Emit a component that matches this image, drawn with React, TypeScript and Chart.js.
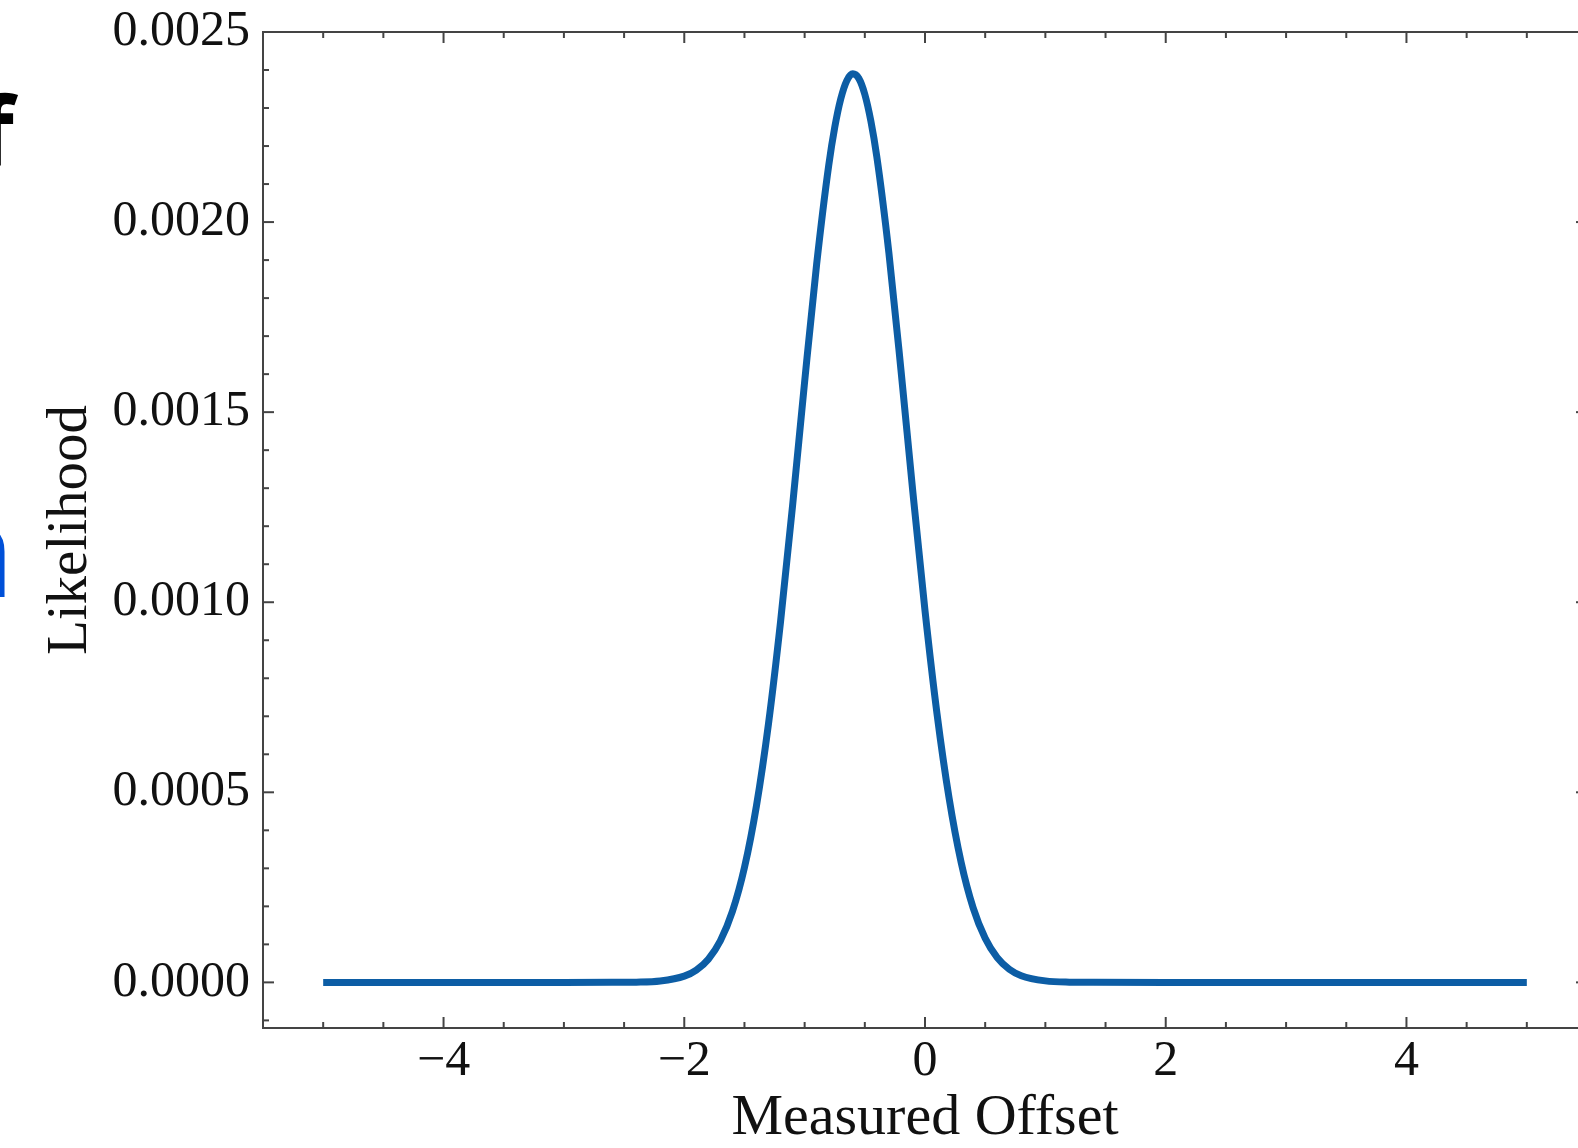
import React, { useEffect, useRef } from 'react';
import { Chart, registerables } from 'chart.js';

Chart.register(...registerables);

// Measured offset (x) and likelihood (y)
const OFFSETS = [
  -5, -4, -3, -2.6, -2.4, -2.2, -2.0, -1.9, -1.8, -1.7, -1.6, -1.5, -1.4, -1.3, -1.2, -1.1,
  -1.0, -0.9, -0.8, -0.75, -0.7, -0.65, -0.6, -0.55, -0.5, -0.45, -0.4, -0.3, -0.2, -0.1,
  0.0, 0.1, 0.2, 0.3, 0.4, 0.5, 0.6, 0.7, 0.8, 1.0, 1.2, 1.4, 2, 3, 4, 5,
];
const LIKELIHOOD = [
  0, 0, 0, 0.0000001, 0.0000006, 0.0000036, 0.0000164, 0.0000324, 0.0000611, 0.0001095,
  0.0001866, 0.000302, 0.000465, 0.000681, 0.000949, 0.001255,
  0.00158, 0.00189, 0.002149, 0.002249, 0.002324, 0.002372, 0.00239, 0.002378, 0.002336,
  0.002266, 0.002171, 0.001919, 0.001612, 0.001287,
  0.000978, 0.000706, 0.000485, 0.000316, 0.000196, 0.000116, 0.000065, 0.0000346,
  0.0000175, 0.0000039, 0.0000006, 0.0000001, 0, 0, 0, 0,
];

const X_MAJOR = [-4, -2, 0, 2, 4];
const X_MINOR = [-5, -4.5, -3.5, -3, -2.5, -1.5, -1, -0.5, 0.5, 1, 1.5, 2.5, 3, 3.5, 4.5, 5];
const Y_MAJOR = [0, 0.0005, 0.001, 0.0015, 0.002, 0.0025];
const Y_MINOR = [
  -0.0001, 0.0001, 0.0002, 0.0003, 0.0004, 0.0006, 0.0007, 0.0008, 0.0009, 0.0011, 0.0012,
  0.0013, 0.0014, 0.0016, 0.0017, 0.0018, 0.0019, 0.0021, 0.0022, 0.0023, 0.0024,
];
const X_RANGE = [-5.5, 5.5];
const Y_RANGE = [-0.00012, 0.0025];
const X_TITLE = 'Measured Offset';
const Y_TITLE = 'Likelihood';

const SERIF = "'Liberation Serif', 'Times New Roman', serif";
const LINE_BLUE = '#0C5DA5';
const SPINE = '#444444';

const framePlugin = {
  id: 'frame',
  afterDraw(chart: any) {
    const { ctx, chartArea: a, scales } = chart;
    const x = scales.x;
    const y = scales.y;
    ctx.save();
    ctx.strokeStyle = SPINE;
    ctx.lineWidth = 2;
    ctx.strokeRect(a.left, a.top, a.right - a.left, a.bottom - a.top);
    const seg = (x1: number, y1: number, x2: number, y2: number) => {
      ctx.beginPath();
      ctx.moveTo(x1, y1);
      ctx.lineTo(x2, y2);
      ctx.stroke();
    };
    const xt = (v: number, len: number) => {
      const p = x.getPixelForValue(v);
      seg(p, a.bottom, p, a.bottom - len);
      seg(p, a.top, p, a.top + len);
    };
    const yt = (v: number, len: number) => {
      const p = y.getPixelForValue(v);
      seg(a.left, p, a.left + len, p);
      seg(a.right, p, a.right - len, p);
    };
    X_MAJOR.forEach((v) => xt(v, 11));
    X_MINOR.forEach((v) => xt(v, 6));
    Y_MAJOR.forEach((v) => yt(v, 11));
    Y_MINOR.forEach((v) => yt(v, 6));
    ctx.restore();
  },
};

const CANVAS_W = 1600;
const CANVAS_H = 1148;

export default function App() {
  const ref = useRef<HTMLCanvasElement | null>(null);

  useEffect(() => {
    if (!ref.current) return;
    const chart = new Chart(ref.current, {
      type: 'line',
      data: {
        datasets: [
          {
            data: OFFSETS.map((v, i) => ({ x: v, y: LIKELIHOOD[i] })),
            borderColor: LINE_BLUE,
            borderWidth: 7,
            pointRadius: 0,
            fill: false,
            cubicInterpolationMode: 'monotone',
            borderCapStyle: 'butt',
          },
        ],
      },
      options: {
        responsive: false,
        animation: false,
        devicePixelRatio: 1,
        layout: { padding: { left: 0, top: 32, right: CANVAS_W - 1587, bottom: 0 } },
        plugins: { legend: { display: false }, tooltip: { enabled: false } },
        scales: {
          x: {
            type: 'linear',
            min: X_RANGE[0],
            max: X_RANGE[1],
            grid: { display: false, drawTicks: false },
            border: { display: false },
            afterBuildTicks: (s: any) => {
              s.ticks = X_MAJOR.map((v) => ({ value: v }));
            },
            afterFit: (s: any) => {
              s.height = CANVAS_H - 1028;
              s.paddingLeft = 0;
              s.paddingRight = 0;
            },
            ticks: {
              padding: 4,
              maxRotation: 0,
              color: '#111',
              font: { family: SERIF, size: 50 },
              callback: (v: any) => (Number(v) < 0 ? '\u2212' + Math.abs(Number(v)) : String(v)),
            },
            title: {
              display: true,
              text: X_TITLE,
              color: '#111',
              font: { family: SERIF, size: 58, lineHeight: 1.0 },
              padding: { top: 0, bottom: 0 },
            },
          },
          y: {
            type: 'linear',
            min: Y_RANGE[0],
            max: Y_RANGE[1],
            grid: { display: false, drawTicks: false },
            border: { display: false },
            afterBuildTicks: (s: any) => {
              s.ticks = Y_MAJOR.map((v) => ({ value: v }));
            },
            afterFit: (s: any) => {
              s.width = 263;
              s.paddingTop = 0;
              s.paddingBottom = 0;
            },
            ticks: {
              padding: 13,
              color: '#111',
              font: { family: SERIF, size: 50 },
              callback: (v: any) => Number(v).toFixed(4),
            },
            title: {
              display: true,
              text: Y_TITLE,
              color: '#111',
              font: { family: SERIF, size: 57 },
              padding: { top: 37, bottom: 0 },
            },
          },
        },
      },
      plugins: [framePlugin],
    } as any);
    return () => chart.destroy();
  }, []);

  return (
    <div
      style={{
        position: 'fixed',
        left: 0,
        top: 0,
        width: 1578,
        height: 1148,
        overflow: 'hidden',
        background: '#fff',
      }}
    >
      <canvas
        ref={ref}
        width={CANVAS_W}
        height={CANVAS_H}
        style={{ position: 'absolute', left: 0, top: 0, width: CANVAS_W, height: CANVAS_H }}
      />
      <span
        style={{
          position: 'absolute',
          left: -23,
          top: 165 - 95 * 0.888,
          fontFamily: "'Open Sans', sans-serif",
          fontWeight: 700,
          fontSize: 95,
          lineHeight: 1,
          color: '#000',
        }}
      >
        f
      </span>
      <span
        style={{
          position: 'absolute',
          left: -70,
          top: 598 - 128 * 0.888,
          fontFamily: "'Open Sans', sans-serif",
          fontWeight: 700,
          fontSize: 128,
          lineHeight: 1,
          color: '#0050D8',
        }}
      >
        n
      </span>
    </div>
  );
}
